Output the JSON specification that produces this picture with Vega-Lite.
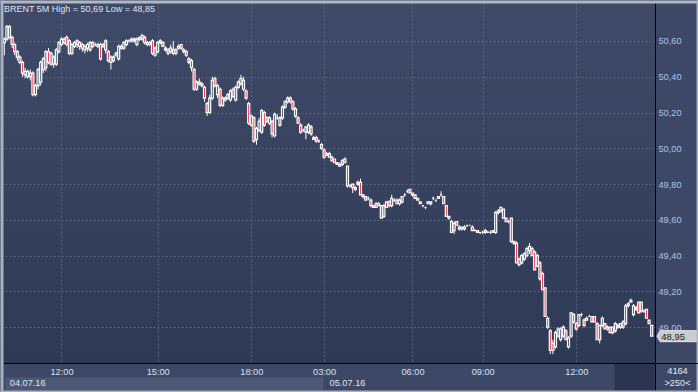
{
"$schema": "https://vega.github.io/schema/vega-lite/v6.json",
"width": 652, "height": 360,
"autosize": "none",
"padding": {"left": 3, "top": 3, "right": 43, "bottom": 29},
"background": "#3c4865",
"view": {"stroke": null, "fill": {"gradient": "linear", "x1": 0, "y1": 0, "x2": 0, "y2": 1, "stops": [{"offset": 0, "color": "#3e4a67"}, {"offset": 1, "color": "#2e3a55"}]}},
"title": {"text": "BRENT 5M High = 50,69 Low = 48,85", "anchor": "start", "frame": "group", "orient": "none", "dy": 9, "baseline": "alphabetic", "align": "left", "dx": 1, "color": "#dfe6f2", "font": "Liberation Sans", "fontSize": 9, "fontWeight": "normal"},
"config": {
  "locale": {"number": {"decimal": ",", "thousands": ".", "grouping": [3], "currency": ["", ""]}},
  "axis": {"labelFont": "Liberation Sans", "labelFontSize": 9.2, "labelOverlap": false, "labelFlush": false}
},
"data": {"values": [
{"i":0,"o":50.59,"h":50.62,"l":50.52,"c":50.61},
{"i":1,"o":50.61,"h":50.69,"l":50.60,"c":50.68},
{"i":2,"o":50.68,"h":50.69,"l":50.61,"c":50.62},
{"i":3,"o":50.62,"h":50.63,"l":50.56,"c":50.58},
{"i":4,"o":50.58,"h":50.59,"l":50.52,"c":50.54},
{"i":5,"o":50.54,"h":50.55,"l":50.49,"c":50.51},
{"i":6,"o":50.51,"h":50.52,"l":50.47,"c":50.48},
{"i":7,"o":50.48,"h":50.49,"l":50.40,"c":50.42},
{"i":8,"o":50.41,"h":50.45,"l":50.39,"c":50.43},
{"i":9,"o":50.43,"h":50.44,"l":50.39,"c":50.40},
{"i":10,"o":50.40,"h":50.44,"l":50.38,"c":50.42},
{"i":11,"o":50.42,"h":50.43,"l":50.29,"c":50.30},
{"i":12,"o":50.30,"h":50.36,"l":50.29,"c":50.35},
{"i":13,"o":50.35,"h":50.45,"l":50.33,"c":50.44},
{"i":14,"o":50.37,"h":50.49,"l":50.35,"c":50.48},
{"i":15,"o":50.44,"h":50.51,"l":50.42,"c":50.50},
{"i":16,"o":50.45,"h":50.55,"l":50.43,"c":50.54},
{"i":17,"o":50.54,"h":50.56,"l":50.47,"c":50.48},
{"i":18,"o":50.47,"h":50.54,"l":50.46,"c":50.53},
{"i":19,"o":50.51,"h":50.52,"l":50.45,"c":50.47},
{"i":20,"o":50.47,"h":50.56,"l":50.46,"c":50.55},
{"i":21,"o":50.54,"h":50.60,"l":50.53,"c":50.59},
{"i":22,"o":50.58,"h":50.62,"l":50.57,"c":50.61},
{"i":23,"o":50.59,"h":50.62,"l":50.58,"c":50.61},
{"i":24,"o":50.62,"h":50.63,"l":50.57,"c":50.58},
{"i":25,"o":50.60,"h":50.61,"l":50.52,"c":50.53},
{"i":26,"o":50.53,"h":50.59,"l":50.52,"c":50.58},
{"i":27,"o":50.57,"h":50.60,"l":50.56,"c":50.59},
{"i":28,"o":50.60,"h":50.61,"l":50.56,"c":50.58},
{"i":29,"o":50.57,"h":50.60,"l":50.55,"c":50.59},
{"i":30,"o":50.58,"h":50.59,"l":50.54,"c":50.56},
{"i":31,"o":50.55,"h":50.58,"l":50.53,"c":50.57},
{"i":32,"o":50.56,"h":50.59,"l":50.54,"c":50.58},
{"i":33,"o":50.55,"h":50.60,"l":50.54,"c":50.59},
{"i":34,"o":50.59,"h":50.60,"l":50.56,"c":50.57},
{"i":35,"o":50.58,"h":50.59,"l":50.57,"c":50.58},
{"i":36,"o":50.57,"h":50.59,"l":50.56,"c":50.58},
{"i":37,"o":50.58,"h":50.59,"l":50.49,"c":50.50},
{"i":38,"o":50.57,"h":50.59,"l":50.56,"c":50.58},
{"i":39,"o":50.60,"h":50.61,"l":50.53,"c":50.55},
{"i":40,"o":50.54,"h":50.55,"l":50.48,"c":50.49},
{"i":41,"o":50.48,"h":50.52,"l":50.44,"c":50.51},
{"i":42,"o":50.51,"h":50.52,"l":50.48,"c":50.49},
{"i":43,"o":50.52,"h":50.54,"l":50.51,"c":50.53},
{"i":44,"o":50.50,"h":50.58,"l":50.49,"c":50.57},
{"i":45,"o":50.56,"h":50.58,"l":50.55,"c":50.57},
{"i":46,"o":50.56,"h":50.60,"l":50.55,"c":50.59},
{"i":47,"o":50.58,"h":50.61,"l":50.57,"c":50.60},
{"i":48,"o":50.60,"h":50.61,"l":50.59,"c":50.60},
{"i":49,"o":50.60,"h":50.62,"l":50.59,"c":50.61},
{"i":50,"o":50.60,"h":50.62,"l":50.59,"c":50.61},
{"i":51,"o":50.58,"h":50.62,"l":50.57,"c":50.61},
{"i":52,"o":50.61,"h":50.62,"l":50.60,"c":50.62},
{"i":53,"o":50.61,"h":50.64,"l":50.60,"c":50.63},
{"i":54,"o":50.62,"h":50.63,"l":50.58,"c":50.59},
{"i":55,"o":50.59,"h":50.60,"l":50.57,"c":50.58},
{"i":56,"o":50.58,"h":50.60,"l":50.57,"c":50.59},
{"i":57,"o":50.60,"h":50.61,"l":50.52,"c":50.53},
{"i":58,"o":50.52,"h":50.57,"l":50.51,"c":50.56},
{"i":59,"o":50.54,"h":50.60,"l":50.53,"c":50.59},
{"i":60,"o":50.60,"h":50.61,"l":50.58,"c":50.59},
{"i":61,"o":50.59,"h":50.60,"l":50.57,"c":50.57},
{"i":62,"o":50.56,"h":50.57,"l":50.54,"c":50.55},
{"i":63,"o":50.55,"h":50.56,"l":50.52,"c":50.53},
{"i":64,"o":50.54,"h":50.58,"l":50.53,"c":50.56},
{"i":65,"o":50.53,"h":50.60,"l":50.52,"c":50.55},
{"i":66,"o":50.55,"h":50.56,"l":50.52,"c":50.53},
{"i":67,"o":50.56,"h":50.58,"l":50.55,"c":50.57},
{"i":68,"o":50.58,"h":50.58,"l":50.55,"c":50.56},
{"i":69,"o":50.55,"h":50.56,"l":50.53,"c":50.54},
{"i":70,"o":50.54,"h":50.55,"l":50.51,"c":50.52},
{"i":71,"o":50.50,"h":50.51,"l":50.47,"c":50.48},
{"i":72,"o":50.49,"h":50.50,"l":50.43,"c":50.45},
{"i":73,"o":50.44,"h":50.45,"l":50.32,"c":50.33},
{"i":74,"o":50.33,"h":50.38,"l":50.32,"c":50.37},
{"i":75,"o":50.36,"h":50.39,"l":50.35,"c":50.37},
{"i":76,"o":50.36,"h":50.37,"l":50.34,"c":50.35},
{"i":77,"o":50.34,"h":50.35,"l":50.26,"c":50.28},
{"i":78,"o":50.25,"h":50.26,"l":50.18,"c":50.20},
{"i":79,"o":50.20,"h":50.30,"l":50.19,"c":50.28},
{"i":80,"o":50.28,"h":50.40,"l":50.27,"c":50.38},
{"i":81,"o":50.39,"h":50.40,"l":50.34,"c":50.35},
{"i":82,"o":50.30,"h":50.36,"l":50.28,"c":50.35},
{"i":83,"o":50.33,"h":50.34,"l":50.23,"c":50.24},
{"i":84,"o":50.24,"h":50.29,"l":50.23,"c":50.28},
{"i":85,"o":50.27,"h":50.29,"l":50.26,"c":50.28},
{"i":86,"o":50.28,"h":50.31,"l":50.27,"c":50.30},
{"i":87,"o":50.27,"h":50.33,"l":50.26,"c":50.32},
{"i":88,"o":50.33,"h":50.34,"l":50.28,"c":50.29},
{"i":89,"o":50.27,"h":50.35,"l":50.26,"c":50.34},
{"i":90,"o":50.34,"h":50.38,"l":50.33,"c":50.37},
{"i":91,"o":50.36,"h":50.41,"l":50.35,"c":50.39},
{"i":92,"o":50.38,"h":50.40,"l":50.32,"c":50.33},
{"i":93,"o":50.32,"h":50.33,"l":50.27,"c":50.28},
{"i":94,"o":50.25,"h":50.26,"l":50.13,"c":50.14},
{"i":95,"o":50.13,"h":50.19,"l":50.12,"c":50.18},
{"i":96,"o":50.17,"h":50.18,"l":50.03,"c":50.04},
{"i":97,"o":50.05,"h":50.12,"l":50.02,"c":50.11},
{"i":98,"o":50.10,"h":50.17,"l":50.09,"c":50.15},
{"i":99,"o":50.09,"h":50.22,"l":50.08,"c":50.21},
{"i":100,"o":50.20,"h":50.21,"l":50.12,"c":50.13},
{"i":101,"o":50.15,"h":50.18,"l":50.14,"c":50.17},
{"i":102,"o":50.17,"h":50.18,"l":50.13,"c":50.14},
{"i":103,"o":50.15,"h":50.16,"l":50.06,"c":50.08},
{"i":104,"o":50.07,"h":50.20,"l":50.06,"c":50.19},
{"i":105,"o":50.17,"h":50.19,"l":50.16,"c":50.17},
{"i":106,"o":50.17,"h":50.18,"l":50.12,"c":50.13},
{"i":107,"o":50.17,"h":50.24,"l":50.16,"c":50.23},
{"i":108,"o":50.23,"h":50.27,"l":50.22,"c":50.26},
{"i":109,"o":50.26,"h":50.29,"l":50.25,"c":50.28},
{"i":110,"o":50.28,"h":50.29,"l":50.25,"c":50.26},
{"i":111,"o":50.26,"h":50.27,"l":50.21,"c":50.22},
{"i":112,"o":50.22,"h":50.23,"l":50.17,"c":50.18},
{"i":113,"o":50.17,"h":50.18,"l":50.14,"c":50.14},
{"i":114,"o":50.13,"h":50.14,"l":50.08,"c":50.09},
{"i":115,"o":50.10,"h":50.11,"l":50.09,"c":50.10},
{"i":116,"o":50.09,"h":50.12,"l":50.05,"c":50.12},
{"i":117,"o":50.09,"h":50.14,"l":50.08,"c":50.13},
{"i":118,"o":50.12,"h":50.13,"l":50.07,"c":50.08},
{"i":119,"o":50.06,"h":50.07,"l":50.05,"c":50.05},
{"i":120,"o":50.06,"h":50.07,"l":50.03,"c":50.04},
{"i":121,"o":50.04,"h":50.05,"l":50.03,"c":50.04},
{"i":122,"o":50.02,"h":50.03,"l":49.99,"c":50.00},
{"i":123,"o":49.99,"h":50.00,"l":49.94,"c":49.95},
{"i":124,"o":49.96,"h":49.98,"l":49.96,"c":49.97},
{"i":125,"o":49.97,"h":49.98,"l":49.95,"c":49.95},
{"i":126,"o":49.95,"h":49.96,"l":49.93,"c":49.93},
{"i":127,"o":49.94,"h":49.94,"l":49.92,"c":49.92},
{"i":128,"o":49.92,"h":49.92,"l":49.91,"c":49.91},
{"i":129,"o":49.90,"h":49.92,"l":49.90,"c":49.91},
{"i":130,"o":49.91,"h":49.94,"l":49.90,"c":49.93},
{"i":131,"o":49.94,"h":49.95,"l":49.92,"c":49.92},
{"i":132,"o":49.90,"h":49.90,"l":49.78,"c":49.79},
{"i":133,"o":49.79,"h":49.80,"l":49.78,"c":49.79},
{"i":134,"o":49.80,"h":49.80,"l":49.75,"c":49.78},
{"i":135,"o":49.77,"h":49.79,"l":49.76,"c":49.78},
{"i":136,"o":49.81,"h":49.82,"l":49.79,"c":49.80},
{"i":137,"o":49.81,"h":49.83,"l":49.74,"c":49.74},
{"i":138,"o":49.74,"h":49.74,"l":49.72,"c":49.73},
{"i":139,"o":49.73,"h":49.73,"l":49.71,"c":49.71},
{"i":140,"o":49.72,"h":49.73,"l":49.71,"c":49.72},
{"i":141,"o":49.71,"h":49.72,"l":49.67,"c":49.68},
{"i":142,"o":49.68,"h":49.68,"l":49.67,"c":49.67},
{"i":143,"o":49.69,"h":49.70,"l":49.67,"c":49.67},
{"i":144,"o":49.68,"h":49.70,"l":49.68,"c":49.69},
{"i":145,"o":49.68,"h":49.68,"l":49.61,"c":49.61},
{"i":146,"o":49.62,"h":49.69,"l":49.61,"c":49.68},
{"i":147,"o":49.70,"h":49.70,"l":49.67,"c":49.67},
{"i":148,"o":49.68,"h":49.71,"l":49.67,"c":49.70},
{"i":149,"o":49.68,"h":49.74,"l":49.67,"c":49.72},
{"i":150,"o":49.71,"h":49.72,"l":49.70,"c":49.71},
{"i":151,"o":49.71,"h":49.72,"l":49.69,"c":49.69},
{"i":152,"o":49.69,"h":49.72,"l":49.68,"c":49.71},
{"i":153,"o":49.70,"h":49.73,"l":49.69,"c":49.73},
{"i":154,"o":49.74,"h":49.75,"l":49.73,"c":49.74},
{"i":155,"o":49.76,"h":49.77,"l":49.75,"c":49.76},
{"i":156,"o":49.77,"h":49.77,"l":49.75,"c":49.75},
{"i":157,"o":49.75,"h":49.75,"l":49.73,"c":49.74},
{"i":158,"o":49.74,"h":49.74,"l":49.72,"c":49.72},
{"i":159,"o":49.72,"h":49.72,"l":49.71,"c":49.71},
{"i":160,"o":49.70,"h":49.70,"l":49.69,"c":49.69},
{"i":161,"o":49.68,"h":49.68,"l":49.67,"c":49.68},
{"i":162,"o":49.67,"h":49.67,"l":49.66,"c":49.67},
{"i":163,"o":49.69,"h":49.70,"l":49.69,"c":49.70},
{"i":164,"o":49.69,"h":49.70,"l":49.68,"c":49.70},
{"i":165,"o":49.72,"h":49.73,"l":49.71,"c":49.72},
{"i":166,"o":49.71,"h":49.71,"l":49.70,"c":49.71},
{"i":167,"o":49.72,"h":49.73,"l":49.72,"c":49.73},
{"i":168,"o":49.74,"h":49.76,"l":49.73,"c":49.74},
{"i":169,"o":49.73,"h":49.73,"l":49.69,"c":49.69},
{"i":170,"o":49.68,"h":49.68,"l":49.62,"c":49.62},
{"i":171,"o":49.62,"h":49.62,"l":49.60,"c":49.61},
{"i":172,"o":49.59,"h":49.60,"l":49.53,"c":49.53},
{"i":173,"o":49.54,"h":49.59,"l":49.52,"c":49.58},
{"i":174,"o":49.59,"h":49.59,"l":49.57,"c":49.57},
{"i":175,"o":49.56,"h":49.57,"l":49.54,"c":49.55},
{"i":176,"o":49.55,"h":49.56,"l":49.54,"c":49.56},
{"i":177,"o":49.55,"h":49.57,"l":49.54,"c":49.56},
{"i":178,"o":49.57,"h":49.57,"l":49.56,"c":49.57},
{"i":179,"o":49.57,"h":49.57,"l":49.57,"c":49.57},
{"i":180,"o":49.56,"h":49.57,"l":49.54,"c":49.54},
{"i":181,"o":49.54,"h":49.55,"l":49.54,"c":49.54},
{"i":182,"o":49.54,"h":49.54,"l":49.53,"c":49.53},
{"i":183,"o":49.53,"h":49.53,"l":49.52,"c":49.53},
{"i":184,"o":49.53,"h":49.54,"l":49.52,"c":49.53},
{"i":185,"o":49.53,"h":49.55,"l":49.52,"c":49.54},
{"i":186,"o":49.53,"h":49.54,"l":49.53,"c":49.53},
{"i":187,"o":49.53,"h":49.54,"l":49.52,"c":49.53},
{"i":188,"o":49.53,"h":49.54,"l":49.53,"c":49.54},
{"i":189,"o":49.53,"h":49.65,"l":49.52,"c":49.64},
{"i":190,"o":49.64,"h":49.66,"l":49.63,"c":49.65},
{"i":191,"o":49.65,"h":49.67,"l":49.64,"c":49.67},
{"i":192,"o":49.66,"h":49.66,"l":49.61,"c":49.61},
{"i":193,"o":49.61,"h":49.61,"l":49.59,"c":49.59},
{"i":194,"o":49.59,"h":49.60,"l":49.58,"c":49.59},
{"i":195,"o":49.61,"h":49.61,"l":49.47,"c":49.48},
{"i":196,"o":49.48,"h":49.48,"l":49.46,"c":49.47},
{"i":197,"o":49.47,"h":49.48,"l":49.36,"c":49.36},
{"i":198,"o":49.35,"h":49.39,"l":49.34,"c":49.38},
{"i":199,"o":49.36,"h":49.41,"l":49.35,"c":49.40},
{"i":200,"o":49.38,"h":49.42,"l":49.37,"c":49.41},
{"i":201,"o":49.40,"h":49.45,"l":49.39,"c":49.44},
{"i":202,"o":49.43,"h":49.47,"l":49.41,"c":49.45},
{"i":203,"o":49.44,"h":49.45,"l":49.40,"c":49.40},
{"i":204,"o":49.42,"h":49.43,"l":49.32,"c":49.32},
{"i":205,"o":49.40,"h":49.41,"l":49.34,"c":49.34},
{"i":206,"o":49.36,"h":49.37,"l":49.26,"c":49.27},
{"i":207,"o":49.30,"h":49.31,"l":49.21,"c":49.21},
{"i":208,"o":49.22,"h":49.22,"l":49.06,"c":49.06},
{"i":209,"o":49.05,"h":49.06,"l":48.99,"c":49.00},
{"i":210,"o":48.98,"h":48.99,"l":48.85,"c":48.87},
{"i":211,"o":48.91,"h":48.93,"l":48.85,"c":48.87},
{"i":212,"o":48.89,"h":48.98,"l":48.88,"c":48.97},
{"i":213,"o":48.95,"h":49.00,"l":48.94,"c":48.99},
{"i":214,"o":48.93,"h":49.00,"l":48.92,"c":48.99},
{"i":215,"o":48.95,"h":49.01,"l":48.94,"c":49.00},
{"i":216,"o":48.98,"h":48.99,"l":48.93,"c":48.93},
{"i":217,"o":48.89,"h":48.95,"l":48.88,"c":48.94},
{"i":218,"o":48.95,"h":49.08,"l":48.94,"c":49.08},
{"i":219,"o":49.07,"h":49.08,"l":49.02,"c":49.03},
{"i":220,"o":49.02,"h":49.03,"l":48.98,"c":48.99},
{"i":221,"o":49.01,"h":49.07,"l":49.00,"c":49.07},
{"i":222,"o":49.07,"h":49.08,"l":49.06,"c":49.07},
{"i":223,"o":49.04,"h":49.05,"l":49.00,"c":49.01},
{"i":224,"o":49.04,"h":49.06,"l":49.04,"c":49.05},
{"i":225,"o":49.06,"h":49.07,"l":49.06,"c":49.06},
{"i":226,"o":49.06,"h":49.06,"l":49.03,"c":49.03},
{"i":227,"o":49.06,"h":49.06,"l":49.03,"c":49.03},
{"i":228,"o":49.02,"h":49.03,"l":48.93,"c":48.93},
{"i":229,"o":48.93,"h":49.01,"l":48.91,"c":49.01},
{"i":230,"o":49.01,"h":49.06,"l":49.00,"c":49.05},
{"i":231,"o":49.02,"h":49.02,"l":48.99,"c":48.99},
{"i":232,"o":48.99,"h":49.01,"l":48.98,"c":49.00},
{"i":233,"o":49.00,"h":49.00,"l":48.97,"c":48.97},
{"i":234,"o":48.97,"h":49.00,"l":48.96,"c":49.00},
{"i":235,"o":48.98,"h":49.03,"l":48.97,"c":49.02},
{"i":236,"o":49.00,"h":49.02,"l":48.99,"c":49.01},
{"i":237,"o":49.00,"h":49.02,"l":48.99,"c":49.02},
{"i":238,"o":49.00,"h":49.04,"l":48.99,"c":49.03},
{"i":239,"o":49.02,"h":49.13,"l":49.01,"c":49.12},
{"i":240,"o":49.12,"h":49.14,"l":49.11,"c":49.13},
{"i":241,"o":49.14,"h":49.16,"l":49.14,"c":49.15},
{"i":242,"o":49.07,"h":49.13,"l":49.06,"c":49.12},
{"i":243,"o":49.10,"h":49.12,"l":49.09,"c":49.11},
{"i":244,"o":49.14,"h":49.14,"l":49.08,"c":49.08},
{"i":245,"o":49.14,"h":49.14,"l":49.08,"c":49.09},
{"i":246,"o":49.09,"h":49.10,"l":49.08,"c":49.09},
{"i":247,"o":49.10,"h":49.10,"l":49.05,"c":49.05},
{"i":248,"o":49.04,"h":49.04,"l":49.02,"c":49.02},
{"i":249,"o":49.01,"h":49.01,"l":48.95,"c":48.95}
]},
"resolve": {"axis": {"x": "independent", "y": "independent"}},
"layer": [
  {
    "mark": {"type": "rule", "color": "#ffffff", "strokeWidth": 1},
    "encoding": {
      "x": {"field": "i", "type": "quantitative",
        "scale": {"domain": [-0.5, 250.27], "nice": false, "zero": false, "padding": 0},
        "axis": {"orient": "bottom", "values": [22, 59, 95, 123, 157, 184, 220, 242.2, 250.27],
          "labelExpr": "datum.value == 22 || datum.value == 220 ? '12:00' : datum.value == 59 ? '15:00' : datum.value == 95 ? '18:00' : datum.value == 123 ? '03:00' : datum.value == 157 ? '06:00' : datum.value == 184 ? '09:00' : ''",
          "grid": true, "gridColor": "#56637f", "gridDash": [2, 2], "gridWidth": 1,
          "gridOpacity": {"condition": {"test": "datum.value > 240", "value": 0}, "value": 1},
          "ticks": true, "tickSize": 29, "tickCap": "butt",
          "tickColor": {"condition": [{"test": "datum.value > 250", "value": "#000000"}], "value": "#2b3550"},
          "tickWidth": {"condition": [{"test": "datum.value > 250", "value": 1}, {"test": "datum.value > 240", "value": 40}], "value": 1},
          "tickOpacity": {"condition": {"test": "datum.value > 240", "value": 1}, "value": 0},
          "domain": true, "domainColor": "#000000", "domainWidth": 1,
          "labelColor": "#d9e2f2", "labelPadding": -25, "labelBaseline": "top", "title": null}},
      "y": {"field": "l", "type": "quantitative",
        "scale": {"domain": [48.80, 50.812], "nice": false, "zero": false},
        "axis": {"orient": "right", "values": [49.0, 49.2, 49.4, 49.6, 49.8, 50.0, 50.2, 50.4, 50.6], "format": ".2f",
          "grid": true, "gridColor": "#56637f", "gridDash": [2, 2], "gridWidth": 1,
          "ticks": false, "tickSize": 0, "domain": true, "domainColor": "#000000", "domainWidth": 1,
          "labelColor": "#aac6ee", "labelPadding": 3, "labelAlign": "left", "labelBaseline": "middle",
          "title": ["4164", ">250<"], "titleAngle": 0, "titleX": 22, "titleY": 363, "titleAlign": "center", "titleBaseline": "top",
          "titleColor": "#e6ecf6", "titleFont": "Liberation Sans", "titleFontSize": 9.2, "titleFontWeight": "normal", "titleLineHeight": 12.5}},
      "y2": {"field": "h"}
    }
  },
  {
    "mark": {"type": "bar", "orient": "vertical", "width": 2, "stroke": "#ffffff", "strokeWidth": 1.2},
    "encoding": {
      "x": {"field": "i", "type": "quantitative",
        "axis": {"orient": "bottom", "values": [0, 61.42, 123],
          "labelExpr": "datum.value == 0 ? '04.07.16' : datum.value == 123 ? '05.07.16' : ''",
          "labelAlign": "left", "labelOffset": 5, "labelPadding": -12, "labelBaseline": "top", "labelColor": "#e0e7f4",
          "domain": false, "grid": false,
          "ticks": true, "tickSize": 13, "tickCap": "butt", "tickColor": "#4b5876",
          "tickWidth": {"condition": {"test": "datum.value > 60 && datum.value < 62", "value": 318}, "value": 1},
          "tickOpacity": {"condition": {"test": "datum.value > 60 && datum.value < 62", "value": 1}, "value": 0},
          "offset": 14, "title": null, "zindex": 1}},
      "y": {"field": "o", "type": "quantitative",
        "axis": {"orient": "left", "values": [49.733], "labels": false, "domain": false, "grid": false,
          "ticks": true, "tickSize": 3, "tickWidth": 392, "tickColor": "#a9b1bf", "tickCap": "butt", "title": null, "zindex": 1}},
      "y2": {"field": "c"},
      "fill": {"condition": {"test": "datum.c < datum.o", "value": "#e8112d"}, "value": "#35415d"}
    }
  },
  {
    "transform": [{"filter": "datum.i == 249"}],
    "mark": {"type": "point", "shape": "M0.106,0L0.166,-0.11L0.906,-0.11L0.906,0.11L0.166,0.11Z", "size": 10000, "filled": true, "fill": "#c8cbd1", "stroke": "#e6e8ec", "strokeWidth": 1, "opacity": 1, "clip": false},
    "encoding": {
      "x": {"field": "i", "type": "quantitative",
        "axis": {"orient": "bottom", "values": [132.6], "labels": false, "domain": false, "grid": false,
          "ticks": true, "tickSize": 2, "tickWidth": 698, "tickColor": "#a9b1bf", "tickCap": "butt",
          "offset": 27, "title": null, "zindex": 1}},
      "y": {"field": "c", "type": "quantitative",
        "axis": {"orient": "right", "values": [49.733], "labels": false, "domain": false, "grid": false,
          "ticks": true, "tickSize": 2, "tickWidth": 392, "tickColor": "#a9b1bf", "tickCap": "butt",
          "offset": 41, "title": null, "zindex": 1}}
    }
  },
  {
    "transform": [{"filter": "datum.i == 249"}],
    "mark": {"type": "text", "align": "left", "baseline": "middle", "dx": 9.5, "dy": 0.5, "color": "#1c1f26", "font": "Liberation Sans", "fontSize": 9.5, "clip": false},
    "encoding": {
      "x": {"field": "i", "type": "quantitative",
        "axis": {"orient": "top", "values": [132.6], "labels": false, "domain": false, "grid": false,
          "ticks": true, "tickSize": 3, "tickWidth": 698, "tickColor": "#b1b8c5", "tickCap": "butt",
          "title": null, "zindex": 1}},
      "y": {"field": "c", "type": "quantitative",
        "axis": {"orient": "right", "values": [48.80], "labels": false, "domain": false, "grid": false,
          "ticks": true, "tickSize": 43, "tickWidth": 1, "tickColor": "#000000", "tickCap": "butt",
          "title": null, "zindex": 1}},
      "text": {"field": "c", "type": "quantitative", "format": ".2f"}
    }
  }
]
}
